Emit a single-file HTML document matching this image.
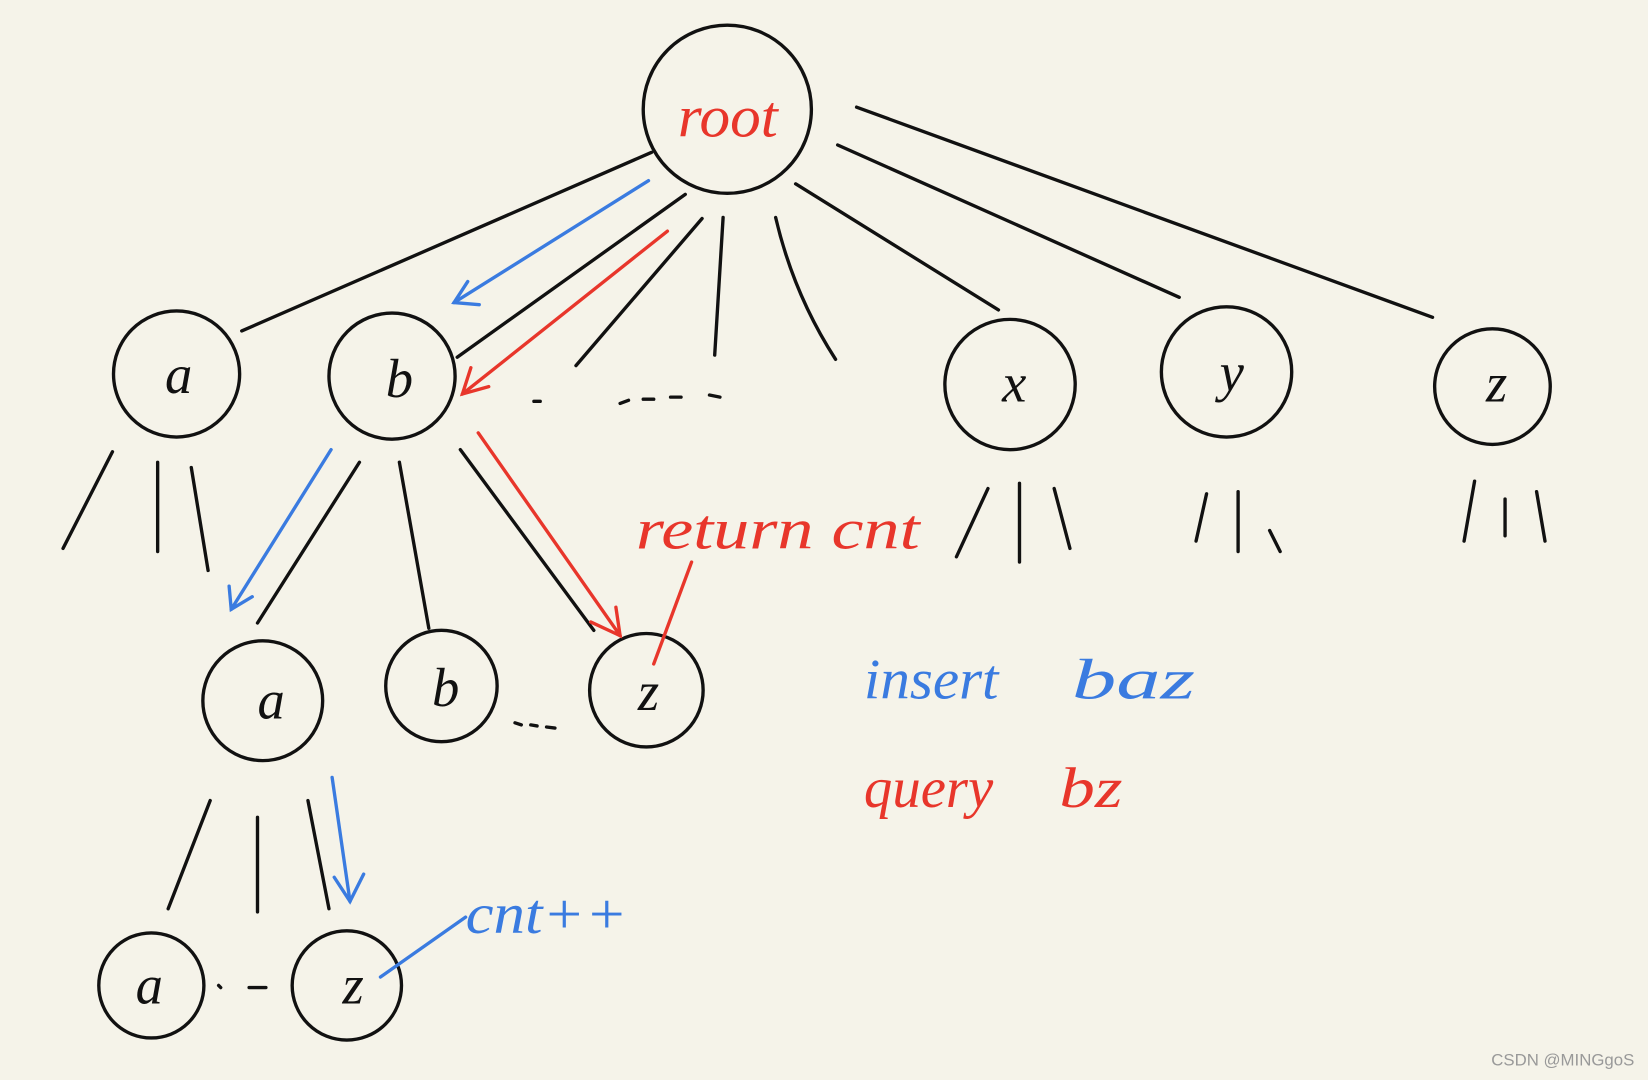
<!DOCTYPE html>
<html><head><meta charset="utf-8"><style>
html,body{margin:0;padding:0;background:#f5f3e9;}
svg{display:block}
text{font-family:"Liberation Serif",serif;font-style:italic;}
</style></head><body>
<svg width="1648" height="1080" viewBox="0 0 1568 1028" preserveAspectRatio="none" xmlns="http://www.w3.org/2000/svg">
<rect width="1568" height="1028" fill="#f5f3e9"/>
<g fill="none" stroke="#111" stroke-width="3.2" stroke-linecap="round">
<circle cx="692" cy="104" r="80"/>
<circle cx="168" cy="356" r="60"/>
<circle cx="373" cy="358" r="60"/>
<circle cx="961" cy="366" r="62"/>
<circle cx="1167" cy="354" r="62"/>
<circle cx="1420" cy="368" r="55"/>
<circle cx="250" cy="667" r="57"/>
<circle cx="420" cy="653" r="53"/>
<circle cx="615" cy="657" r="54"/>
<circle cx="144" cy="938" r="50"/>
<circle cx="330" cy="938" r="52"/>
<line x1="620" y1="145" x2="230" y2="315"/>
<line x1="652" y1="185" x2="435" y2="340"/>
<line x1="668" y1="208" x2="548" y2="348"/>
<line x1="688" y1="207" x2="680" y2="338"/>
<path d="M738 207 Q755 280 795 342"/>
<line x1="757" y1="175" x2="950" y2="295"/>
<line x1="797" y1="138" x2="1122" y2="283"/>
<line x1="815" y1="102" x2="1363" y2="302"/>
<line x1="107" y1="430" x2="60" y2="522"/>
<line x1="150" y1="440" x2="150" y2="525"/>
<line x1="182" y1="445" x2="198" y2="543"/>
<line x1="342" y1="440" x2="245" y2="593"/>
<line x1="380" y1="440" x2="408" y2="598"/>
<line x1="438" y1="428" x2="565" y2="600"/>
<line x1="940" y1="465" x2="910" y2="530"/>
<line x1="970" y1="460" x2="970" y2="535"/>
<line x1="1003" y1="465" x2="1018" y2="522"/>
<line x1="1148" y1="470" x2="1138" y2="515"/>
<line x1="1178" y1="468" x2="1178" y2="525"/>
<line x1="1208" y1="505" x2="1218" y2="525"/>
<line x1="1403" y1="458" x2="1393" y2="515"/>
<line x1="1432" y1="475" x2="1432" y2="510"/>
<line x1="1462" y1="468" x2="1470" y2="515"/>
<line x1="200" y1="762" x2="160" y2="865"/>
<line x1="245" y1="778" x2="245" y2="868"/>
<line x1="293" y1="762" x2="313" y2="865"/>
<path d="M508 382 l6 0 M590 384 l8 -3 M612 380 l10 0 M638 378 l10 0 M675 376 l10 2" />
<path d="M490 688 l6 2 M505 690 l6 1 M520 692 l8 1"/>
<path d="M208 938 l2 2 M237 940 l16 0"/>
</g>
<g fill="none" stroke="#3a7be0" stroke-width="3.2" stroke-linecap="round">
<line x1="617" y1="172" x2="432" y2="288"/>
<path d="M445 268 L432 288 L456 290"/>
<line x1="315" y1="428" x2="220" y2="580"/>
<path d="M218 558 L220 580 L240 568"/>
<line x1="316" y1="740" x2="333" y2="858"/>
<path d="M318 835 L333 858 L346 832"/>
<line x1="443" y1="873" x2="362" y2="930"/>
</g>
<g fill="none" stroke="#e8362b" stroke-width="3.2" stroke-linecap="round">
<line x1="635" y1="220" x2="440" y2="375"/>
<path d="M448 350 L440 375 L465 368"/>
<line x1="455" y1="412" x2="590" y2="605"/>
<path d="M562 592 L590 605 L586 578"/>
<line x1="658" y1="535" x2="622" y2="632"/>
</g>
<g font-size="56" fill="#e8362b">
<text x="645" y="130" textLength="95" lengthAdjust="spacingAndGlyphs">root</text>
<text x="605" y="522" font-size="54" textLength="270" lengthAdjust="spacingAndGlyphs">return cnt</text>
<text x="822" y="768" font-size="54" textLength="123" lengthAdjust="spacingAndGlyphs">query</text>
<text x="1008" y="768" font-size="54" textLength="60" lengthAdjust="spacingAndGlyphs">bz</text>
</g>
<g fill="#3a7be0" font-size="54">
<text x="822" y="665" textLength="128" lengthAdjust="spacingAndGlyphs">insert</text>
<text x="1020" y="665" textLength="117" lengthAdjust="spacingAndGlyphs">baz</text>
<text x="443" y="888" textLength="154" lengthAdjust="spacingAndGlyphs">cnt++</text>
</g>
<g fill="#111" font-size="52" text-anchor="middle">
<text x="170" y="374">a</text>
<text x="380" y="378">b</text>
<text x="965" y="382">x</text>
<text x="1172" y="372">y</text>
<text x="1424" y="382">z</text>
<text x="258" y="684">a</text>
<text x="424" y="672">b</text>
<text x="617" y="676">z</text>
<text x="142" y="955">a</text>
<text x="336" y="955">z</text>
</g>
<text x="1555" y="1014" text-anchor="end" font-size="16" fill="#999" style="font-family:'Liberation Sans',sans-serif;font-style:normal">CSDN @MINGgoS</text>
</svg>
</body></html>
